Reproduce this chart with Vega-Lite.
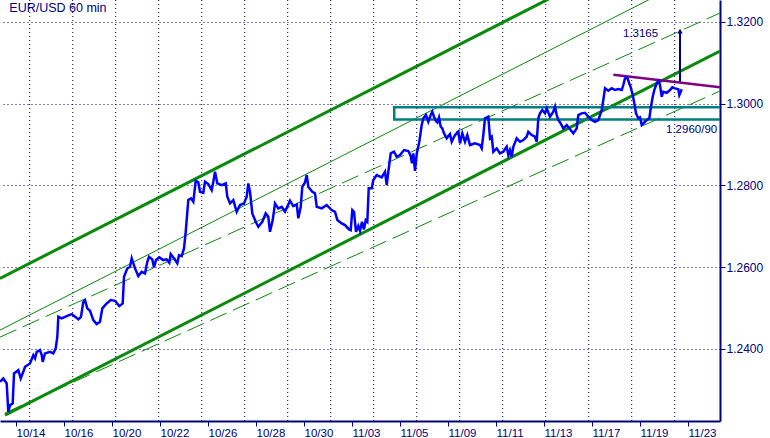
{
  "$schema": "https://vega.github.io/schema/vega-lite/v6.json",
  "width": 720,
  "height": 421,
  "autosize": {"type": "none"},
  "padding": {"left": 0, "top": 0, "right": 50, "bottom": 17},
  "background": "white",
  "config": {"view": {"stroke": null}, "font": "Liberation Sans"},
  "datasets": {
    "price": [
      {"d":-0.667,"p":1.23197},{"d":-0.529,"p":1.23281},{"d":-0.388,"p":1.23158},{"d":-0.321,"p":1.22464},{"d":-0.25,"p":1.22628},{"d":-0.138,"p":1.22669},{"d":-0.083,"p":1.23403},{"d":0.096,"p":1.23483},{"d":0.196,"p":1.23281},{"d":0.304,"p":1.23442},{"d":0.375,"p":1.23564},{"d":0.583,"p":1.23647},{"d":0.721,"p":1.2385},{"d":0.792,"p":1.2377},{"d":0.863,"p":1.23931},{"d":1.0,"p":1.23972},{"d":1.071,"p":1.2385},{"d":1.113,"p":1.23686},{"d":1.208,"p":1.23892},{"d":1.417,"p":1.23931},{"d":1.554,"p":1.23892},{"d":1.654,"p":1.24014},{"d":1.721,"p":1.24298},{"d":1.763,"p":1.24787},{"d":1.904,"p":1.24748},{"d":2.113,"p":1.24804},{"d":2.321,"p":1.24853},{"d":2.5,"p":1.24772},{"d":2.596,"p":1.24723},{"d":2.708,"p":1.24787},{"d":2.804,"p":1.25153},{"d":2.875,"p":1.25195},{"d":2.971,"p":1.24992},{"d":3.083,"p":1.24933},{"d":3.221,"p":1.24706},{"d":3.363,"p":1.24608},{"d":3.5,"p":1.24664},{"d":3.596,"p":1.24992},{"d":3.75,"p":1.25097},{"d":3.946,"p":1.25195},{"d":4.125,"p":1.25178},{"d":4.304,"p":1.25048},{"d":4.446,"p":1.25114},{"d":4.5,"p":1.25765},{"d":4.638,"p":1.2597},{"d":4.75,"p":1.26009},{"d":4.821,"p":1.26215},{"d":4.958,"p":1.2597},{"d":5.096,"p":1.25782},{"d":5.238,"p":1.25887},{"d":5.375,"p":1.25848},{"d":5.471,"p":1.26131},{"d":5.542,"p":1.26254},{"d":5.679,"p":1.2619},{"d":5.75,"p":1.25995},{"d":5.833,"p":1.26173},{"d":5.971,"p":1.26239},{"d":6.138,"p":1.26173},{"d":6.279,"p":1.2619},{"d":6.388,"p":1.26107},{"d":6.446,"p":1.2632},{"d":6.583,"p":1.26215},{"d":6.721,"p":1.26092},{"d":6.792,"p":1.26295},{"d":6.904,"p":1.26271},{"d":7.0,"p":1.26459},{"d":7.071,"p":1.26865},{"d":7.179,"p":1.2764},{"d":7.292,"p":1.27682},{"d":7.388,"p":1.27598},{"d":7.488,"p":1.28112},{"d":7.596,"p":1.28073},{"d":7.667,"p":1.27843},{"d":7.804,"p":1.27818},{"d":7.875,"p":1.28087},{"d":8.013,"p":1.28031},{"d":8.154,"p":1.27884},{"d":8.221,"p":1.28087},{"d":8.292,"p":1.28332},{"d":8.388,"p":1.28048},{"d":8.571,"p":1.28007},{"d":8.738,"p":1.28048},{"d":8.804,"p":1.27721},{"d":8.917,"p":1.27559},{"d":9.054,"p":1.2764},{"d":9.196,"p":1.27354},{"d":9.333,"p":1.27518},{"d":9.5,"p":1.27559},{"d":9.613,"p":1.27721},{"d":9.679,"p":1.28048},{"d":9.75,"p":1.27843},{"d":9.846,"p":1.27315},{"d":9.988,"p":1.27109},{"d":10.096,"p":1.26987},{"d":10.263,"p":1.27109},{"d":10.404,"p":1.27315},{"d":10.513,"p":1.27232},{"d":10.583,"p":1.26865},{"d":10.696,"p":1.27151},{"d":10.792,"p":1.27559},{"d":10.929,"p":1.27437},{"d":11.071,"p":1.27476},{"d":11.208,"p":1.27354},{"d":11.417,"p":1.27623},{"d":11.554,"p":1.27493},{"d":11.696,"p":1.27535},{"d":11.763,"p":1.27193},{"d":11.863,"p":1.27476},{"d":11.929,"p":1.27965},{"d":12.042,"p":1.28073},{"d":12.113,"p":1.28251},{"d":12.179,"p":1.27965},{"d":12.346,"p":1.27843},{"d":12.458,"p":1.27804},{"d":12.529,"p":1.27476},{"d":12.738,"p":1.27437},{"d":12.946,"p":1.27518},{"d":13.154,"p":1.27395},{"d":13.292,"p":1.27354},{"d":13.388,"p":1.27151},{"d":13.571,"p":1.2707},{"d":13.708,"p":1.27029},{"d":13.875,"p":1.26924},{"d":13.946,"p":1.26906},{"d":14.013,"p":1.27395},{"d":14.083,"p":1.27354},{"d":14.167,"p":1.26865},{"d":14.263,"p":1.27004},{"d":14.333,"p":1.26889},{"d":14.417,"p":1.27109},{"d":14.5,"p":1.26924},{"d":14.571,"p":1.27151},{"d":14.638,"p":1.27109},{"d":14.696,"p":1.27926},{"d":14.821,"p":1.27926},{"d":14.888,"p":1.28129},{"d":15.029,"p":1.28251},{"d":15.238,"p":1.28195},{"d":15.375,"p":1.28332},{"d":15.446,"p":1.28007},{"d":15.513,"p":1.28332},{"d":15.613,"p":1.28782},{"d":15.75,"p":1.28821},{"d":15.863,"p":1.28699},{"d":16.0,"p":1.2874},{"d":16.167,"p":1.28862},{"d":16.346,"p":1.28838},{"d":16.446,"p":1.28716},{"d":16.5,"p":1.28537},{"d":16.554,"p":1.28782},{"d":16.625,"p":1.28356},{"d":16.696,"p":1.28765},{"d":16.804,"p":1.29065},{"d":16.904,"p":1.29474},{"d":16.971,"p":1.29638},{"d":17.083,"p":1.29718},{"d":17.179,"p":1.29554},{"d":17.279,"p":1.29718},{"d":17.346,"p":1.29799},{"d":17.417,"p":1.29677},{"d":17.488,"p":1.29579},{"d":17.554,"p":1.2954},{"d":17.625,"p":1.29662},{"d":17.696,"p":1.29432},{"d":17.763,"p":1.29393},{"d":17.833,"p":1.29271},{"d":17.946,"p":1.29149},{"d":18.083,"p":1.29254},{"d":18.154,"p":1.29065},{"d":18.292,"p":1.29229},{"d":18.429,"p":1.2931},{"d":18.5,"p":1.29026},{"d":18.596,"p":1.29271},{"d":18.708,"p":1.29065},{"d":18.804,"p":1.29229},{"d":18.917,"p":1.28985},{"d":19.125,"p":1.29026},{"d":19.333,"p":1.28985},{"d":19.404,"p":1.28904},{"d":19.471,"p":1.29229},{"d":19.542,"p":1.29638},{"d":19.679,"p":1.29677},{"d":19.75,"p":1.29149},{"d":19.821,"p":1.29188},{"d":19.888,"p":1.28821},{"d":20.029,"p":1.28904},{"d":20.167,"p":1.28782},{"d":20.304,"p":1.28821},{"d":20.446,"p":1.28943},{"d":20.513,"p":1.2874},{"d":20.583,"p":1.28862},{"d":20.654,"p":1.28699},{"d":20.721,"p":1.28943},{"d":20.863,"p":1.29149},{"d":21.0,"p":1.29065},{"d":21.138,"p":1.29107},{"d":21.279,"p":1.29188},{"d":21.346,"p":1.2931},{"d":21.488,"p":1.29229},{"d":21.625,"p":1.29188},{"d":21.696,"p":1.29065},{"d":21.763,"p":1.29638},{"d":21.833,"p":1.2976},{"d":21.929,"p":1.2984},{"d":22.042,"p":1.2976},{"d":22.113,"p":1.29882},{"d":22.25,"p":1.29677},{"d":22.388,"p":1.29799},{"d":22.458,"p":1.29921},{"d":22.529,"p":1.29718},{"d":22.596,"p":1.29596},{"d":22.696,"p":1.29515},{"d":22.804,"p":1.29393},{"d":22.946,"p":1.29474},{"d":23.083,"p":1.29369},{"d":23.221,"p":1.29271},{"d":23.363,"p":1.29393},{"d":23.429,"p":1.29718},{"d":23.571,"p":1.2976},{"d":23.708,"p":1.29774},{"d":23.846,"p":1.29677},{"d":23.988,"p":1.29596},{"d":24.125,"p":1.29554},{"d":24.263,"p":1.29596},{"d":24.404,"p":1.2984},{"d":24.471,"p":1.30085},{"d":24.542,"p":1.30371},{"d":24.679,"p":1.30312},{"d":24.821,"p":1.30371},{"d":24.958,"p":1.3033},{"d":25.096,"p":1.30354},{"d":25.238,"p":1.3033},{"d":25.304,"p":1.30452},{"d":25.375,"p":1.30616},{"d":25.471,"p":1.3064},{"d":25.542,"p":1.30508},{"d":25.613,"p":1.30396},{"d":25.696,"p":1.30207},{"d":25.763,"p":1.30004},{"d":25.833,"p":1.2976},{"d":25.929,"p":1.29638},{"d":26.0,"p":1.29662},{"d":26.071,"p":1.29474},{"d":26.167,"p":1.2953},{"d":26.25,"p":1.29579},{"d":26.388,"p":1.29638},{"d":26.458,"p":1.29921},{"d":26.529,"p":1.30166},{"d":26.596,"p":1.3033},{"d":26.696,"p":1.30493},{"d":26.763,"p":1.3055},{"d":26.833,"p":1.30452},{"d":26.904,"p":1.30166},{"d":26.971,"p":1.30288},{"d":27.113,"p":1.30263},{"d":27.25,"p":1.3033},{"d":27.346,"p":1.30396},{"d":27.458,"p":1.30371},{"d":27.596,"p":1.30347},{"d":27.638,"p":1.30207},{"d":27.738,"p":1.30347}
    ],
    "channel": [
      {"name": "upper", "kind": "thick", "d1": -0.667, "p1": 1.25725, "d2": 29.333, "p2": 1.34687},
      {"name": "lower", "kind": "thick", "d1": -0.459, "p1": 1.22383, "d2": 29.333, "p2": 1.31283},
      {"name": "median", "kind": "thin", "d1": -0.667, "p1": 1.24462, "d2": 29.333, "p2": 1.33422},
      {"name": "d1", "kind": "dashed", "d1": -0.667, "p1": 1.2429, "d2": 29.333, "p2": 1.32212},
      {"name": "d2", "kind": "dashed", "d1": -0.459, "p1": 1.22438, "d2": 29.333, "p2": 1.30305}
    ],
    "vgrid": [
      {"g": 0.571},{"g": 2.363},{"g": 4.154},{"g": 5.946},{"g": 7.738},{"g": 9.529},{"g": 11.321},{"g": 13.113},
      {"g": 14.904},{"g": 16.696},{"g": 18.488},{"g": 20.279},{"g": 22.071},{"g": 23.863},{"g": 25.654},{"g": 27.446}
    ]
  },
  "layer": [
    {
      "data": {"name": "vgrid"},
      "mark": {"type": "rule", "color": "#000080", "strokeWidth": 1, "strokeDash": [1, 3]},
      "encoding": {
        "x": {"field": "g", "type": "quantitative", "scale": {"domain": [-0.667, 29.333], "nice": false, "zero": false}, "title": null}
      }
    },
    {
      "data": {"name": "price"},
      "mark": {"type": "line", "opacity": 0},
      "encoding": {
        "x": {"field": "d", "type": "quantitative", "scale": {"domain": [-0.667, 29.333], "nice": false, "zero": false}, "title": null,
          "axis": {"title": null, "orient": "bottom", "values": [0,1,2,3,4,5,6,7,8,9,10,11,12,13,14,15,16,17,18,19,20,21,22,23,24,25,26,27,28,29],
            "labelExpr": "['10/14','','10/16','','10/20','','10/22','','10/26','','10/28','','10/30','','11/03','','11/05','','11/09','','11/11','','11/13','','11/17','','11/19','','11/23',''][datum.value]",
            "labelAlign": "left", "labelDx": 2, "labelPadding": 1, "labelFontSize": 11.5, "labelColor": "#000080", "labelFont": "Liberation Sans",
            "labelOverlap": false, "labelFlush": false, "labelBound": false,
            "tickSize": 5, "tickColor": "#000080", "domainColor": "#000080", "domainWidth": 2, "grid": false}},
        "y": {"field": "p", "type": "quantitative", "scale": {"domain": [1.2224, 1.3253], "nice": false, "zero": false}, "title": null,
          "axis": {"title": null, "orient": "right", "values": [1.24, 1.26, 1.28, 1.30, 1.32], "format": ".4f",
            "labelFontSize": 12, "labelColor": "#000080", "labelFont": "Liberation Sans", "labelPadding": 1,
            "tickSize": 5, "tickColor": "#000080", "domainColor": "#000080", "domainWidth": 2,
            "grid": true, "gridColor": "#000080", "gridDash": [1, 3], "gridWidth": 1, "gridOpacity": 1}}
      }
    },
    {
      "data": {"name": "channel"},
      "transform": [{"filter": "datum.kind === 'thick'"}],
      "mark": {"type": "rule", "color": "#0a8a0a", "strokeWidth": 3, "clip": true},
      "encoding": {
        "x": {"field": "d1", "type": "quantitative", "title": null}, "x2": {"field": "d2"},
        "y": {"field": "p1", "type": "quantitative", "title": null}, "y2": {"field": "p2"}
      }
    },
    {
      "data": {"name": "channel"},
      "transform": [{"filter": "datum.kind === 'thin'"}],
      "mark": {"type": "rule", "color": "#0a8a0a", "strokeWidth": 1, "clip": true},
      "encoding": {
        "x": {"field": "d1", "type": "quantitative", "title": null}, "x2": {"field": "d2"},
        "y": {"field": "p1", "type": "quantitative", "title": null}, "y2": {"field": "p2"}
      }
    },
    {
      "data": {"name": "channel"},
      "transform": [{"filter": "datum.kind === 'dashed'"}],
      "mark": {"type": "rule", "color": "#0a8a0a", "strokeWidth": 1, "strokeDash": [18, 7], "clip": true},
      "encoding": {
        "x": {"field": "d1", "type": "quantitative", "title": null}, "x2": {"field": "d2"},
        "y": {"field": "p1", "type": "quantitative", "title": null}, "y2": {"field": "p2"}
      }
    },
    {
      "data": {"values": [{"from": 15.76, "to": 30, "lo": 1.2961, "hi": 1.2991}]},
      "mark": {"type": "rect", "filled": false, "stroke": "#008080", "strokeWidth": 2.5, "clip": true},
      "encoding": {
        "x": {"field": "from", "type": "quantitative", "title": null}, "x2": {"field": "to"},
        "y": {"field": "lo", "type": "quantitative", "title": null}, "y2": {"field": "hi"}
      }
    },
    {
      "data": {"values": [{"d1": 24.89, "p1": 1.30704, "d2": 29.333, "p2": 1.30396}]},
      "mark": {"type": "rule", "color": "#800080", "strokeWidth": 2.5, "clip": true},
      "encoding": {
        "x": {"field": "d1", "type": "quantitative", "title": null}, "x2": {"field": "d2"},
        "y": {"field": "p1", "type": "quantitative", "title": null}, "y2": {"field": "p2"}
      }
    },
    {
      "data": {"name": "price"},
      "mark": {"type": "line", "color": "#0000ff", "strokeWidth": 2.5, "clip": true, "interpolate": "linear"},
      "encoding": {
        "x": {"field": "d", "type": "quantitative", "title": null},
        "y": {"field": "p", "type": "quantitative", "title": null}
      }
    },
    {
      "data": {"values": [{"d": 27.667, "from": 1.30533, "to": 1.3176}]},
      "mark": {"type": "rule", "color": "#000080", "strokeWidth": 2},
      "encoding": {
        "x": {"field": "d", "type": "quantitative", "title": null},
        "y": {"field": "from", "type": "quantitative", "title": null}, "y2": {"field": "to"}
      }
    },
    {
      "data": {"values": [{"d": 27.667, "p": 1.3177}]},
      "mark": {"type": "point", "shape": "triangle-up", "filled": true, "color": "#000080", "size": 30, "opacity": 1},
      "encoding": {
        "x": {"field": "d", "type": "quantitative", "title": null},
        "y": {"field": "p", "type": "quantitative", "title": null}
      }
    },
    {
      "data": {"values": [
        {"label": "EUR/USD 60 min", "d": -0.28, "p": 1.32244}
      ]},
      "mark": {"type": "text", "align": "left", "baseline": "alphabetic", "font": "'Liberation Sans Narrow', 'Liberation Sans'", "fontSize": 12.5, "color": "#000080"},
      "encoding": {
        "x": {"field": "d", "type": "quantitative", "title": null},
        "y": {"field": "p", "type": "quantitative", "title": null},
        "text": {"field": "label"}
      }
    },
    {
      "data": {"values": [
        {"label": "1.3165", "d": 26.02, "p": 1.3163},
        {"label": "1.2960/90", "d": 28.15, "p": 1.2927}
      ]},
      "mark": {"type": "text", "align": "center", "baseline": "alphabetic", "font": "Liberation Sans", "fontSize": 11.5, "color": "#000080"},
      "encoding": {
        "x": {"field": "d", "type": "quantitative", "title": null},
        "y": {"field": "p", "type": "quantitative", "title": null},
        "text": {"field": "label"}
      }
    }
  ]
}
